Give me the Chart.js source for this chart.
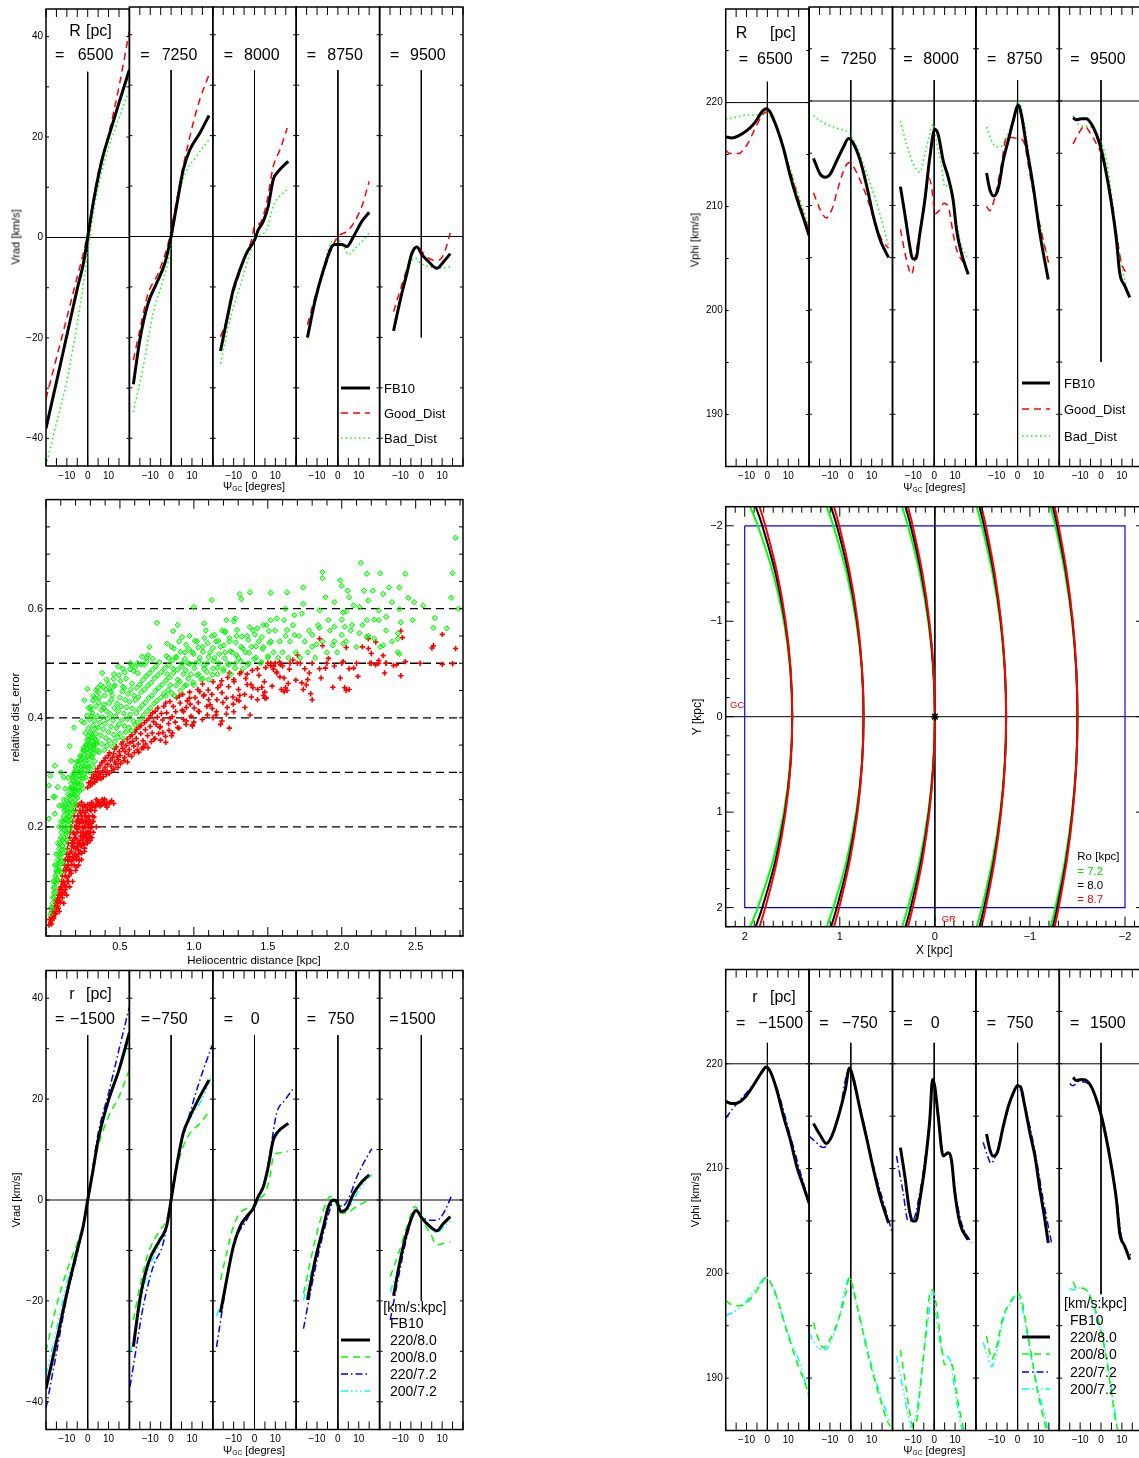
<!DOCTYPE html>
<html>
<head>
<meta charset="utf-8">
<title>Velocity field maps</title>
<script src="https://cdn.jsdelivr.net/npm/chart.js@4.4.1/dist/chart.umd.min.js"></script>
<style>
  body { margin: 0; width: 1139px; height: 1458px; overflow: hidden; background: #fff; position: relative;
         font-family: "Liberation Sans", Arial, sans-serif; }
  canvas { position: absolute; }
  .lbl { position: absolute; white-space: nowrap; line-height: 1; }
  .lbl sub { font-size: 0.6em; vertical-align: -0.2em; }
</style>
</head>
<body>
<script>
// ---- tick values and panel categories ----
const PSI_TICKS = [-10, 0, 10];
const VRAD_TICKS = [-40, -20, 0, 20, 40];
const VPHI_TICKS = [190, 200, 210, 220];
const DIST_TICKS = [0.5, 1.0, 1.5, 2.0, 2.5];
const ERR_TICKS = [0.2, 0.4, 0.6];
const KPC_TICKS = [-2, -1, 0, 1, 2];
const ERR_LEVELS = [0.2, 0.3, 0.4, 0.5, 0.6];

const R_LIST = [6500, 7250, 8000, 8750, 9500];
const Z_LIST = [-1500, -750, 0, 750, 1500];

// ---- Vrad vs psi_GC, one list per R ----
const VRAD_R_FB10 = [
  [[-20,-38],[-15,-28.8],[-10,-19.5],[-5,-10.2],[-2,-5],[0,0],[2.5,6.5],[5,12],[7.5,16.5],[10,20],[15,26.8],[20,33.4]],
  [[-18.1,-29.3],[-15,-20.5],[-11,-13.2],[-7,-9.3],[-3,-5.3],[0,0],[2.6,6],[5.8,13.2],[9,17.2],[13.8,20.5],[18.2,24]],
  [[-16.3,-22.7],[-12.6,-15.2],[-10.2,-10.6],[-7,-6.6],[-3.8,-3.3],[0,-0.7],[1.8,1.3],[4.2,3],[6.6,6],[9,11.3],[11.4,12.9],[16.2,14.9]],
  [[-14.6,-20],[-10.9,-12.6],[-6.9,-6.6],[-2.9,-2],[-1.3,-1.6],[1.9,-1.6],[4.3,-2],[7.5,0],[11.5,3],[15,4.8]],
  [[-13.3,-18.7],[-10.1,-12.6],[-6.9,-7.3],[-4.5,-3.3],[-2.1,-2.1],[0.3,-3.6],[3.5,-5],[7.5,-6.3],[10.7,-5],[13.9,-3.4]]
];
const VRAD_R_GOOD = [
  [[-20,-32.1],[-15,-24],[-10,-16],[-5,-7.8],[-2,-3],[0,0.8],[2.5,7],[5,12.8],[10,20.5],[15,30],[20,41.2]],
  [[-18.1,-24.5],[-15,-18.5],[-11,-11.3],[-6.2,-7.3],[-1.4,-1.4],[0,1.3],[2.6,7],[5.8,13.9],[10.6,22.5],[13.8,27.2],[18.2,32.1]],
  [[-16.3,-19.9],[-13.4,-16.6],[-10.2,-11.3],[-3.8,-3.3],[-1.4,-0.7],[0,2],[2.6,2.6],[5.8,6.6],[9,13.9],[12.2,17.2],[15.7,21.5]],
  [[-14.6,-17.5],[-10.9,-11.9],[-6.1,-6],[-2.9,-2.3],[0,0],[4.3,1],[7.5,2.6],[11.5,6],[15,10.9]],
  [[-13.3,-14.9],[-10.1,-10.6],[-5.3,-4.6],[-2.1,-2.1],[0.3,-3],[3.5,-4.3],[7.5,-4.8],[10.7,-3.6],[13.9,0.7]]
];
const VRAD_R_BAD = [
  [[-20,-45.4],[-15,-37],[-10,-28.5],[-5,-17],[-2,-9],[0,-3],[2,3],[5,9.9],[10,17.9],[15,23.8],[20,29.5]],
  [[-18.1,-34.8],[-13.4,-25.8],[-8.6,-15.2],[-3.8,-8.6],[-0.6,-3.3],[1,2],[5.8,11.3],[12.2,15.9],[18.2,19.2]],
  [[-16.3,-25.2],[-11.8,-16.6],[-7,-9.9],[-2.2,-3.3],[0,-0.7],[2.6,0.3],[5.8,1.3],[9,6],[15.7,9.4]],
  [[-14.6,-20.2],[-10.9,-12.6],[-6.9,-6],[-2.9,-1],[0,-0.7],[2.7,-2],[5.1,-3.6],[8.3,-2.3],[12.3,-0.7],[15,0.7]],
  [[-13.3,-18.5],[-10.1,-12.6],[-6.1,-6],[-2.9,-4.3],[-0.5,-5.3],[4.3,-6],[7.5,-6.3],[13.9,-6]]
];
const VRAD_R_VLINE = [[33,-46],[33,-46],[33,-46],[33,-46],[33,-20]];

// ---- Vphi vs psi_GC, one list per R ----
const VPHI_R_FB10 = [
  [[-20,216.7],[-17.1,216.6],[-13.9,216.8],[-9.9,217.3],[-5.9,218.1],[-2.7,219.1],[-0.6,219.4],[1.3,219.1],[4.5,217.6],[7.7,215.6],[10.9,213],[14.1,210.8],[17.3,208.9],[20,207.2]],
  [[-17.9,214.5],[-14.7,213],[-12.3,212.7],[-9.9,213],[-6.7,214.3],[-3.5,215.6],[-1.1,216.4],[1.3,215.9],[4.5,214.3],[7.7,211.8],[10.9,208.9],[14.1,206.7],[18.1,205]],
  [[-16.2,211.8],[-14.1,209.2],[-11.7,206.1],[-10.4,204.9],[-8.8,204.9],[-6.9,207.3],[-4.5,210.5],[-2.1,214.6],[0.3,217.3],[1.9,216.8],[4.3,214.3],[6.7,212.7],[9.1,210.5],[10.7,207.7],[13.1,205.4],[16.3,203.4]],
  [[-14.9,213.1],[-13.3,211.5],[-11.4,210.9],[-9.3,211.6],[-6.9,214.3],[-4.5,216.2],[-2.1,218.1],[0.3,219.6],[1.9,218.6],[4.3,215.6],[7.5,211.8],[10.7,207.3],[14.7,202.9]],
  [[-13.4,218.4],[-11.8,218.2],[-9.4,218.3],[-7,218.3],[-4.6,217.8],[-2.2,216.8],[0.2,215.3],[2.6,213],[5,210.2],[7.4,206.7],[9,203.5],[11.4,202.3],[13.8,201.2]]
];
const VPHI_R_GOOD = [
  [[-20,215.4],[-17.9,215.1],[-13.9,215.1],[-9.9,215.9],[-5.9,217.5],[-2.7,218.7],[-0.6,219.1],[4.5,217.5],[10.9,213.4],[17.3,209.2],[20,207.7]],
  [[-17.9,211.2],[-14.7,209.6],[-11.8,208.8],[-9.1,209.6],[-5.9,211.8],[-2.7,213.7],[-0.6,214.1],[1.3,213.7],[4.5,212.4],[7.7,210.8],[11.7,208.3],[14.9,206.7],[18.1,205.9]],
  [[-16.2,207.7],[-13.3,204.8],[-10.9,203.4],[-8.5,205.8],[-5.3,209.2],[-2.4,212.6],[-1.3,211.8],[0.6,209.2],[2.7,209.6],[4.6,210.2],[6.7,209.9],[9.1,207.3],[10.7,205.8],[13.1,204.8],[15.5,204.3]],
  [[-14.9,209.9],[-13.3,209.5],[-10.9,210.8],[-7.7,214],[-5.3,216.5],[-2.9,216.5],[0.3,216.4],[2.7,216.2],[5.9,213],[9.1,209.6],[12.3,206.7],[15.2,204.2]],
  [[-13.4,215.9],[-11,216.8],[-7.8,217.6],[-5.4,217],[-2.2,215.9],[0.2,214.9],[2.6,213],[5,210.5],[7.4,207.3],[9.8,204.5],[12.2,203.5]]
];
const VPHI_R_BAD = [
  [[-20,218.4],[-14.7,218.6],[-9.9,218.8],[-5.1,218.8],[-0.6,218.9],[4.5,217.6],[10.9,213.7],[17.3,209.6],[20,208]],
  [[-17.9,218.6],[-13.1,217.9],[-8.3,217.5],[-3.5,217.2],[-0.6,216.9],[2.9,215.6],[7.7,213],[12.5,210.2],[18.1,206.1]],
  [[-16.2,218.1],[-13.3,215.9],[-10.1,214],[-6.9,213.2],[-4.5,214.9],[-2.1,216.8],[-0.5,217.8],[1.1,216.2],[3.5,213.7],[5.1,211.8],[7.5,212.2],[9.9,209.6],[12.3,206.7],[16.3,204.8]],
  [[-14.9,217.5],[-11.7,215.9],[-8.5,215.6],[-5.3,216.5],[-2.1,218.3],[0.3,220],[2.7,218.4],[5.9,214.3],[9.1,209.9],[12.3,206.7],[15.2,204.5]],
  [[-13.4,218.6],[-11,217.8],[-7.8,217.6],[-4.6,217.5],[-1.4,216.5],[1,215.6],[3.4,213.4],[5.8,209.9],[8.2,206.4],[10.6,203.5],[13.8,200.9]]
];
const VPHI_R_VLINE = [[222,184],[222,184],[222,184],[222,184],[222,195]];

// ---- Vrad vs psi_GC, one list per r (rotation speed / Ro pairs) ----
const VRAD_Z_220_80 = [
  [[-20,-37.4],[-15,-28.1],[-10,-18.5],[-5,-9.9],[-2.2,-5.3],[0,0],[2.6,6],[5,11.9],[10,19.8],[15,25.8],[20,33.2]],
  [[-18.1,-29.1],[-15,-19.8],[-11,-12.6],[-5.4,-7.9],[-2.2,-5.3],[0,0],[2.6,6.6],[5.8,13.2],[9,16.5],[13.8,20.5],[18.2,23.8]],
  [[-16.3,-22.3],[-13.4,-15.9],[-10.2,-9.3],[-7,-5.3],[-3.8,-3.3],[-0.6,-1.7],[1.8,0.7],[4.2,2.6],[6.6,6.6],[9,11.9],[11.4,13.6],[16.2,15.2]],
  [[-14.6,-19.8],[-10.9,-11.9],[-6.9,-5.3],[-4.5,-1.3],[-2.1,0],[-0.5,-0.3],[1.4,-2.3],[4.3,-1.7],[7.5,1.3],[11.5,3.6],[15,5]],
  [[-13.3,-19],[-10.1,-11.9],[-6.1,-5.3],[-2.4,-2.1],[0.3,-3.6],[4.3,-5.3],[7.5,-6.1],[10.7,-4.6],[13.9,-3.3]]
];
const VRAD_Z_200_80 = [
  [[-20,-30],[-15,-21],[-10,-14],[-5,-8.5],[-2,-4.5],[0,-0.3],[2.5,5.5],[5,10.6],[10,16.5],[15,20.5],[20,25.8]],
  [[-18.1,-23.8],[-15,-17.2],[-11,-10.6],[-5.4,-6],[-2.2,-4],[0,0],[2.6,6],[5.8,10.6],[9,13.2],[13.8,15.2],[18.2,17.5]],
  [[-16.3,-15.9],[-13.4,-10.6],[-10.2,-5.3],[-7,-2.6],[-3.8,-1.7],[-0.6,-1.3],[2.6,0.3],[5,1.3],[7.4,4.6],[9,8.6],[11.4,9.3],[16.2,9.6]],
  [[-16.5,-18.5],[-14.1,-13.9],[-10.9,-7.9],[-6.9,-2],[-3.7,0.7],[-1.3,-0.3],[1.1,-2.6],[4.3,-2.6],[7.5,-1.7],[11.5,-0.7],[15.5,0.1]],
  [[-14.9,-15.2],[-10.9,-10.6],[-6.9,-5.3],[-2.9,-1.3],[0.3,-4],[4.3,-6.6],[7.5,-8.9],[10.7,-8.6],[13.9,-8.3]]
];
const VRAD_Z_220_72 = [
  [[-20,-41.3],[-15,-30.4],[-10,-19.2],[-5,-10.6],[0,-0.3],[5,13.2],[10,21.2],[15,29.8],[20,38.3]],
  [[-19.7,-37],[-16.6,-29.1],[-13.4,-21.2],[-8.6,-13.2],[-3.8,-8.6],[0,0],[4.2,9.9],[9,17.2],[13.8,23.8],[19.7,30.7]],
  [[-18.2,-29.1],[-15,-20.5],[-11.8,-11.9],[-7.8,-6.6],[-3.8,-4],[-0.6,-1.3],[2.6,1.3],[5,4],[7.4,9.3],[10.6,17.2],[14.6,19.8],[18.6,22.1]],
  [[-16.5,-25.5],[-13.3,-18.5],[-9.3,-10.6],[-5.3,-4],[-2.1,-0.3],[-0.5,-0.1],[1.9,-1.3],[5.1,0.3],[9.1,4.6],[12.3,7.3],[16.3,10.2]],
  [[-14.9,-23.8],[-10.9,-15.2],[-6.9,-7.3],[-2.9,-2],[0.3,-3.3],[4.3,-4],[7.5,-4],[10.7,-2.6],[14.7,1]]
];
const VRAD_Z_200_72 = [
  [[-20,-34.7],[-15,-25.8],[-10,-16.5],[-5,-9.3],[0,-0.1],[5,11.6],[10,19.5],[15,25.5],[20,31.7]],
  [[-19.7,-30.4],[-16.6,-24.5],[-11.8,-15.2],[-7,-9.9],[-2.2,-5.3],[0,0],[5,11.9],[9.8,16.5],[14.6,19.8],[19.7,24.8]],
  [[-18.2,-23],[-15,-19.2],[-11.8,-11.9],[-7.8,-6],[-3.8,-3.3],[-0.6,-1.7],[2.6,0.7],[5,3.3],[8.2,10.6],[11.4,13.2],[17,15.5]],
  [[-16.5,-19.8],[-12.5,-13.9],[-8.5,-7.3],[-4.5,-1.7],[-2.1,-0.3],[-0.5,-0.3],[1.9,-2.6],[5.1,-1.7],[9.1,1.3],[12.3,3.3],[16.3,5]],
  [[-14.9,-18.2],[-10.9,-13.2],[-6.9,-6.6],[-2.9,-2.3],[0.3,-3.3],[4.3,-5.3],[7.5,-6.5],[10.7,-5.3],[14.7,-4]]
];
const VRAD_Z_VLINE = [[32.7,-46],[32.7,-46],[32.7,-46],[32.7,-46],[32.7,-20]];

// ---- Vphi vs psi_GC, one list per r ----
const VPHI_Z_220_80 = [
  [[-20,216.4],[-17.1,216.2],[-13.9,216.3],[-9.9,217],[-5.9,218.2],[-2.7,219.2],[-0.6,219.7],[1.3,219.3],[4.5,217.5],[7.7,215],[10.9,212.8],[14.1,210.2],[17.3,208.3],[20,206.7]],
  [[-17.9,214.3],[-14.7,213.2],[-11.8,212.4],[-9.1,213.1],[-5.9,215],[-2.7,217.5],[-0.6,219.6],[1.3,218.5],[4.5,215.6],[7.7,212.8],[10.9,209.9],[14.1,207.3],[18.1,204.8]],
  [[-16.2,212],[-14.1,209.3],[-11.7,205.8],[-10.4,205],[-8.8,205],[-6.9,207],[-4.5,210.2],[-2.1,214.7],[-0.8,218.5],[0.3,217.8],[1.9,215],[4.3,211.2],[6.7,211.5],[8.3,210.8],[9.9,207.7],[12.3,204.8],[16.3,203.2]],
  [[-14.9,213.3],[-13.3,211.8],[-11.7,211.2],[-9.8,211.5],[-6.9,214],[-4.5,215.9],[-2.1,217.2],[0,217.9],[1.4,217.8],[3.5,215.9],[5.9,213.4],[8.3,211.2],[10.7,208],[13.1,205.1],[14.7,202.9]],
  [[-13.4,218.7],[-11.8,218.4],[-9.4,218.5],[-7,218.4],[-4.6,217.8],[-2.2,216.6],[0.2,215],[2.6,212.8],[5,210.2],[7.4,207],[9,203.8],[11.4,202.6],[13.8,201.3]]
];
const VPHI_Z_200_80 = [
  [[-20,197.4],[-17.1,197],[-13.1,196.9],[-9.9,197.2],[-5.9,198.1],[-2.7,199.1],[-0.6,199.6],[2.1,198.9],[5.3,197.2],[8.5,195],[11.7,193],[14.9,191.1],[18.1,189.5],[20,188.1]],
  [[-17.9,195.3],[-15.5,193.7],[-13.1,192.9],[-9.9,193.7],[-5.9,195.6],[-2.7,197.8],[-0.6,199.6],[1.3,198.4],[4.5,195.6],[7.7,192.7],[10.9,190.2],[14.1,188],[17.3,186],[18.9,185.4]],
  [[-16.2,192.7],[-14.1,189.9],[-11.7,186.7],[-10.1,185.4],[-8.5,185.8],[-6.9,188.6],[-4.5,193.4],[-2.1,198.1],[-0.8,198.4],[1.1,196.9],[3.5,193],[5.1,191.3],[7.5,191.4],[9.1,191],[10.7,188.6],[13.1,186],[14.5,184.8]],
  [[-14.9,194],[-13.3,192.4],[-12.5,191.8],[-10.1,193],[-6.9,195.9],[-3.7,197.2],[0,198.1],[1.9,197.5],[4.3,194.9],[6.7,192.1],[9.1,189.2],[11.5,187],[14.2,184.8]],
  [[-13.4,199.2],[-11.8,198.6],[-9.4,198.6],[-7,198.4],[-4.6,197.5],[-2.2,196.2],[0.2,194.3],[2.6,191.8],[5,188.6],[6.6,186.4],[8.4,184.6]]
];
const VPHI_Z_220_72 = [
  [[-20,214.8],[-16.3,215.8],[-11.5,216.9],[-5.9,218.2],[-0.6,219.7],[4.5,217.7],[10.9,213.2],[17.3,208.6],[20,206.9]],
  [[-20,213.1],[-17.1,212.6],[-13.1,212],[-9.9,212.8],[-5.9,215],[-0.6,219.6],[4.5,215.8],[10.9,210.2],[18.1,205.1],[19.7,204]],
  [[-18.1,211.2],[-14.9,207.7],[-12.5,205],[-10.1,205.1],[-6.9,207.7],[-4.5,210.8],[-1.8,215.3],[-0.5,218.3],[1.9,215.3],[4.6,211.2],[7.5,211.5],[9.9,208],[13.1,204.8],[17.9,202.9]],
  [[-16.5,212.5],[-14.4,211.2],[-12.8,210.5],[-10.4,211.3],[-6.9,214],[-2.1,217.2],[0,218],[2.7,216.6],[5.9,214],[9.1,210.8],[12.3,207],[16.3,202.9]],
  [[-15,218.1],[-13.4,217.9],[-11,218.3],[-7,218.2],[-2.2,216.6],[2.6,213.1],[7.4,207.3],[9.8,203.5],[14.6,201.6]]
];
const VPHI_Z_200_72 = [
  [[-20,196],[-16.3,196.3],[-11.5,197],[-5.9,198.4],[-0.6,199.6],[2.9,198.6],[6.9,196.2],[10.9,193.7],[14.9,191.8],[20,188.3]],
  [[-20,194.3],[-16.3,193],[-12.3,192.7],[-9.1,193.7],[-5.9,195.6],[-0.6,199.6],[2.9,196.9],[6.9,193.7],[10.9,190.5],[14.9,188],[18.9,185.7]],
  [[-18.1,192.1],[-14.9,188.9],[-12.5,186.4],[-10.9,185.3],[-8.5,186.7],[-5.3,191.8],[-2.9,195.6],[-0.8,198.4],[1.1,195.6],[4,192.4],[7.5,191.8],[9.9,188.9],[12.6,185.7],[13.8,184.8]],
  [[-16.5,193.4],[-14.4,192.1],[-12.5,191.1],[-10.1,192.4],[-6.9,195.6],[-3.7,197],[0,198],[2.7,196.2],[5.9,192.7],[9.1,189.5],[12.3,187],[14.9,184.8]],
  [[-15,198.6],[-13.4,198.4],[-11,198.6],[-7,198.4],[-2.2,196],[1,193.7],[3.4,191.1],[5.8,188],[8.4,184.6]]
];
const VPHI_Z_VLINE = [[222,184],[222,184],[222,184],[222,184],[222,198]];

// ---- relative distance error vs heliocentric distance [kpc] ----
const BAD_PTS = [
  // outer, sparse stars
  [2.77,0.73],[2.75,0.665],[2.74,0.62],[2.79,0.6],[2.71,0.564],[2.62,0.565],[2.63,0.583],[2.55,0.606],[2.49,0.612],[2.45,0.62],
  [2.48,0.579],[2.43,0.664],[2.39,0.639],[2.39,0.599],[2.4,0.575],[2.38,0.555],[2.38,0.545],[2.39,0.517],[2.34,0.612],[2.32,0.639],
  [2.28,0.627],[2.26,0.665],[2.25,0.597],[2.3,0.585],[2.25,0.579],[2.21,0.633],[2.18,0.615],[2.17,0.664],[2.15,0.633],[2.13,0.684],
  [2.12,0.603],[2.17,0.579],[2.17,0.548],[2.12,0.555],[2.28,0.533],[2.22,0.545],[2.04,0.633],[2.05,0.621],[2.08,0.606],[2.03,0.595],
  [2.01,0.593],[1.99,0.652],[2,0.642],[1.95,0.612],[1.95,0.567],[2.02,0.567],[2.07,0.57],[2,0.552],[1.94,0.533],[2.01,0.536],
  [1.89,0.621],[1.87,0.667],[1.87,0.656],[1.85,0.597],[1.91,0.579],[1.85,0.565],[1.8,0.552],[1.83,0.535],[1.74,0.609],[1.74,0.639],
  [1.73,0.591],[1.68,0.588],[1.63,0.63],[1.62,0.6],[1.61,0.579],[1.68,0.552],[1.63,0.561],[1.56,0.582],[1.52,0.629],[1.52,0.579],
  [1.47,0.57],[1.43,0.564],[1.38,0.63],[1.32,0.618],[1.31,0.627],[1.27,0.577],[1.28,0.582],[1.22,0.579],[1.21,0.559],[1.12,0.616],
  [1.07,0.573],[1,0.603],[0.92,0.548],[0.89,0.57],[0.86,0.559],[0.75,0.574],[0.82,0.536],[0.7,0.53],[0.69,0.515],[0.65,0.512],
  [0.58,0.497],[0.49,0.494],[0.46,0.458],[0.38,0.482],[0.35,0.455],[0.28,0.453],[0.24,0.394],[0.19,0.382],[0.16,0.348],[0.26,0.432],
  [0.31,0.403],[0.39,0.418],[0.44,0.448],[0.53,0.455],[0.06,0.312],[0.03,0.294],[0.02,0.276],[0.02,0.215],[0.06,0.255],[0.12,0.291],
  [0.17,0.321],[0.18,0.294],[0.09,0.239],[0.06,0.224],[0.08,0.273],[0.05,0.255],[0.12,0.236],[0.1,0.3],
  // nearby column
  [0.03,0.04],[0.04,0.05],[0.045,0.06],[0.05,0.07],[0.055,0.08],[0.06,0.09],[0.06,0.1],[0.065,0.11],[0.07,0.12],[0.07,0.105],
  [0.075,0.13],[0.08,0.14],[0.08,0.12],[0.085,0.15],[0.09,0.16],[0.09,0.135],[0.095,0.17],[0.1,0.18],[0.1,0.15],[0.105,0.19],
  [0.11,0.2],[0.11,0.165],[0.115,0.21],[0.12,0.22],[0.12,0.18],[0.125,0.23],[0.13,0.2],[0.13,0.24],[0.135,0.215],[0.14,0.25],
  [0.14,0.19],[0.145,0.23],[0.15,0.26],[0.15,0.21],[0.155,0.24],[0.16,0.27],[0.16,0.22],[0.165,0.25],[0.17,0.28],[0.17,0.2],
  [0.175,0.26],[0.18,0.29],[0.18,0.23],[0.185,0.27],[0.19,0.3],[0.19,0.24],[0.195,0.28],[0.2,0.31],[0.2,0.25],[0.205,0.29],
  [0.21,0.32],[0.21,0.26],[0.22,0.3],[0.22,0.27],[0.23,0.33],[0.23,0.28],[0.24,0.31],[0.24,0.29],[0.25,0.34],[0.25,0.3],
  [0.26,0.32],[0.27,0.35],[0.27,0.31],[0.28,0.33],[0.29,0.36],[0.3,0.34],[0.3,0.3],[0.31,0.37],[0.32,0.35],[0.32,0.31],
  [0.33,0.38],[0.34,0.36],[0.35,0.34],[0.06,0.13],[0.08,0.17],[0.1,0.21],[0.12,0.25],[0.05,0.1],[0.09,0.2],[0.11,0.24],
  [0.13,0.27],[0.15,0.29],[0.07,0.15],[0.21,0.28],[0.23,0.3],[0.25,0.27],[0.27,0.29],[0.29,0.31],[0.31,0.33],[0.33,0.32],
  [0.22,0.32],[0.24,0.33],[0.26,0.34],[0.28,0.36],[0.2,0.27],[0.19,0.26],[0.18,0.27],
  [0.036,0.052],[0.047,0.071],[0.053,0.088],[0.061,0.079],[0.068,0.097],[0.074,0.116],[0.079,0.103],[0.086,0.128],[0.093,0.121],[0.097,0.144],
  [0.104,0.137],[0.108,0.158],[0.113,0.176],[0.118,0.152],[0.123,0.194],[0.127,0.171],[0.132,0.213],[0.137,0.186],[0.142,0.227],[0.147,0.204],
  [0.152,0.243],[0.157,0.218],[0.162,0.257],[0.168,0.233],[0.173,0.271],[0.178,0.246],[0.183,0.284],[0.188,0.259],[0.194,0.297],[0.199,0.268],
  [0.204,0.306],[0.211,0.282],[0.217,0.314],[0.224,0.293],[0.231,0.321],[0.238,0.304],[0.246,0.327],[0.253,0.312],[0.261,0.338],[0.269,0.322],
  [0.277,0.343],[0.286,0.329],[0.294,0.352],[0.303,0.338],[0.312,0.357],[0.321,0.346],[0.33,0.362],[0.34,0.352],[0.104,0.116],[0.117,0.134],
  [0.131,0.158],[0.144,0.176],[0.158,0.193],[0.171,0.212],[0.186,0.227],[0.198,0.241],[0.212,0.253],[0.226,0.266],[0.239,0.277],[0.253,0.289],
  [0.266,0.298],[0.281,0.308],[0.296,0.317],[0.309,0.327],[0.323,0.335],
  // main cloud up to ~1.5 kpc
  [0.255,0.345],[0.266,0.372],[0.26,0.391],[0.274,0.352],[0.285,0.381],[0.279,0.404],[0.289,0.366],[0.292,0.349],[0.301,0.373],[0.295,0.397],
  [0.305,0.415],[0.309,0.364],[0.318,0.386],[0.312,0.409],[0.322,0.351],[0.324,0.342],[0.335,0.371],[0.329,0.395],[0.339,0.421],[0.343,0.356],
  [0.352,0.382],[0.346,0.403],[0.356,0.428],[0.359,0.337],[0.37,0.368],[0.364,0.391],[0.374,0.414],[0.361,0.437],[0.378,0.352],[0.387,0.379],
  [0.381,0.401],[0.391,0.424],[0.394,0.341],[0.405,0.363],[0.399,0.389],[0.409,0.412],[0.396,0.441],[0.413,0.349],[0.422,0.374],[0.416,0.398],
  [0.426,0.427],[0.429,0.358],[0.44,0.384],[0.434,0.407],[0.444,0.433],[0.431,0.452],[0.449,0.347],[0.458,0.369],[0.452,0.395],[0.462,0.418],
  [0.447,0.441],[0.465,0.356],[0.476,0.381],[0.47,0.403],[0.48,0.426],[0.467,0.459],[0.485,0.364],[0.494,0.388],[0.488,0.412],[0.498,0.437],
  [0.502,0.371],[0.513,0.396],[0.507,0.421],[0.517,0.448],[0.504,0.468],[0.523,0.362],[0.532,0.385],[0.526,0.408],[0.536,0.433],[0.521,0.457],
  [0.54,0.374],[0.551,0.398],[0.545,0.419],[0.555,0.444],[0.542,0.472],[0.561,0.382],[0.57,0.406],[0.564,0.429],[0.574,0.452],[0.579,0.376],
  [0.59,0.394],[0.584,0.417],[0.594,0.441],[0.581,0.463],[0.592,0.486],[0.601,0.387],[0.61,0.409],[0.604,0.432],[0.614,0.455],[0.619,0.391],
  [0.63,0.416],[0.624,0.438],[0.634,0.461],[0.621,0.482],[0.642,0.398],[0.651,0.423],[0.645,0.447],[0.655,0.469],[0.661,0.405],[0.672,0.428],
  [0.666,0.452],[0.676,0.476],[0.663,0.497],[0.685,0.412],[0.694,0.436],[0.688,0.459],[0.698,0.481],[0.705,0.418],[0.716,0.441],[0.71,0.464],
  [0.72,0.488],[0.73,0.426],[0.739,0.449],[0.733,0.472],[0.743,0.494],[0.751,0.431],[0.762,0.455],[0.756,0.478],[0.766,0.502],[0.777,0.437],
  [0.786,0.461],[0.78,0.484],[0.799,0.445],[0.81,0.468],[0.804,0.491],[0.814,0.513],[0.826,0.451],[0.835,0.474],[0.829,0.497],[0.85,0.445],
  [0.861,0.482],[0.855,0.505],[0.865,0.527],[0.879,0.459],[0.888,0.488],[0.882,0.512],[0.905,0.466],[0.916,0.494],[0.91,0.521],[0.935,0.458],
  [0.944,0.487],[0.938,0.508],[0.948,0.534],[0.962,0.472],[0.973,0.499],[0.967,0.526],[0.994,0.465],[1.003,0.491],[0.997,0.517],[1.007,0.541],
  [1.024,0.478],[1.035,0.503],[1.029,0.529],[1.058,0.472],[1.067,0.496],[1.061,0.521],[1.071,0.546],[1.089,0.484],[1.1,0.511],[1.094,0.537],
  [1.126,0.479],[1.135,0.504],[1.129,0.528],[1.139,0.552],[1.16,0.492],[1.171,0.517],[1.165,0.541],[1.199,0.486],[1.208,0.509],[1.202,0.533],
  [1.212,0.557],[1.236,0.497],[1.247,0.522],[1.241,0.546],[1.279,0.491],[1.288,0.515],[1.282,0.538],[1.292,0.561],[1.319,0.503],[1.33,0.527],
  [1.324,0.549],[1.365,0.497],[1.374,0.519],[1.368,0.543],[1.378,0.566],[1.408,0.508],[1.419,0.531],[1.413,0.553],[1.457,0.502],[1.466,0.526],
  [1.46,0.548],[1.503,0.513],[1.514,0.537],[1.508,0.559],
  [0.318,0.432],[0.352,0.447],[0.387,0.456],[0.423,0.462],[0.458,0.471],[0.493,0.478],[0.532,0.483],[0.568,0.489],[0.603,0.493],[0.641,0.498],
  [0.682,0.503],[0.722,0.508],[0.286,0.418],[0.333,0.436],[0.405,0.452],
  [0.3,0.42],[0.32,0.44],[0.34,0.45],[0.37,0.46],[0.41,0.47],[0.46,0.48],[0.52,0.49],[0.57,0.5],[0.62,0.5],[0.68,0.51],
  [0.81,0.44],[0.82,0.48],[0.83,0.51],[0.84,0.46],[0.85,0.53],[0.86,0.49],[0.87,0.44],[0.88,0.51],[0.89,0.47],[0.9,0.54],
  [0.91,0.45],[0.92,0.5],[0.93,0.48],[0.94,0.52],[0.95,0.46],[0.96,0.5],[0.97,0.55],[0.98,0.48],[0.99,0.52],[1,0.46],
  [1.01,0.5],[1.02,0.54],[1.03,0.48],[1.04,0.51],[1.05,0.47],[1.06,0.53],[1.07,0.49],[1.08,0.56],[1.09,0.5],[1.1,0.47],
  [1.11,0.52],[1.12,0.55],[1.13,0.49],[1.14,0.51],[1.15,0.54],[1.16,0.48],[1.17,0.5],[1.18,0.53],[1.19,0.56],[1.2,0.49],
  [1.21,0.52],[1.23,0.5],[1.24,0.54],[1.25,0.48],[1.26,0.52],[1.28,0.5],[1.29,0.55],[1.3,0.51],[1.32,0.53],[1.33,0.49],
  [1.35,0.52],[1.36,0.55],[1.37,0.5],[1.39,0.53],[1.4,0.56],[1.42,0.51],[1.44,0.54],[1.45,0.5],[1.47,0.53],[1.49,0.57],
  [1.5,0.51],[1.52,0.54],[1.54,0.52],[1.55,0.56],[1.57,0.51],[1.58,0.54],[1.6,0.52],[1.62,0.55],[1.64,0.51],[1.65,0.54],
  [1.67,0.57],[1.69,0.52],[1.71,0.55],[1.72,0.51],[1.75,0.54],[1.77,0.52],[1.78,0.56],[1.8,0.53],[1.82,0.51],[1.84,0.57],
  [1.87,0.54],[1.9,0.52],[1.92,0.56],[1.95,0.54],[1.97,0.52],[2,0.58],[2.03,0.54],[2.06,0.56],[2.1,0.53],[2.14,0.57],
  [2.18,0.55],[2.22,0.58],[2.26,0.53],[2.3,0.56],[2.34,0.54],[2.38,0.52]
];
const GOOD_PTS = [
  // outer, sparse stars
  [2.77,0.527],[2.75,0.499],[2.68,0.498],[2.68,0.553],[2.62,0.532],[2.61,0.528],[2.53,0.5],[2.43,0.503],[2.4,0.477],[2.41,0.547],
  [2.4,0.559],[2.37,0.497],[2.35,0.496],[2.3,0.5],[2.29,0.482],[2.28,0.514],[2.25,0.5],[2.23,0.497],[2.2,0.518],[2.19,0.5],
  [2.18,0.527],[2.23,0.539],[2.18,0.545],[2.14,0.53],[2.11,0.476],[2.08,0.491],[2.05,0.452],[2.03,0.45],[2.02,0.455],[2.03,0.529],
  [2.01,0.503],[1.99,0.473],[1.94,0.456],[1.91,0.509],[1.89,0.491],[1.86,0.473],[1.87,0.532],[1.85,0.545],[1.8,0.433],[1.79,0.444],
  [1.77,0.47],[1.78,0.482],[1.74,0.452],[1.73,0.464],[1.72,0.5],[1.7,0.515],[1.67,0.506],[1.63,0.45],[1.62,0.455],[1.61,0.473],
  [1.58,0.502],[1.56,0.482],[1.54,0.494],[1.52,0.5],[1.49,0.436],[1.47,0.441],[1.46,0.456],[1.43,0.433],[1.4,0.455],[1.36,0.461],
  [1.36,0.48],[1.31,0.441],[1.29,0.433],[1.27,0.47],[1.24,0.482],[1.22,0.407],[1.19,0.394],[1.18,0.388],[1.13,0.4],[1.1,0.433],
  [1.07,0.442],[1.03,0.412],[0.99,0.385],[0.95,0.394],[0.89,0.382],[0.85,0.367],[0.81,0.355],[0.77,0.382],[0.73,0.361],[0.66,0.345],
  [1.38,0.405],[1.27,0.411],[1.11,0.424],[1.22,0.436],[1.48,0.436],[1.61,0.448],[1.76,0.46],[1.69,0.469],[1.56,0.484],[1.52,0.496],
  [1.43,0.49],[1.32,0.484],[1.18,0.46],[1.04,0.448],[0.97,0.436],[0.93,0.411],[0.84,0.399],[0.99,0.387],[1.15,0.405],[1.24,0.381],
  [1.5,0.5],[1.55,0.5],[1.6,0.495],[1.65,0.5],[1.7,0.5],[1.75,0.49],[1.8,0.5],[1.85,0.49],[1.9,0.5],[1.95,0.495],
  [2,0.5],[2.05,0.49],[2.1,0.5],[2.2,0.5],[2.25,0.505],[2.3,0.5],
  // nearby spine and blob
  [0.02,0.02],[0.025,0.03],[0.03,0.025],[0.035,0.035],[0.04,0.03],[0.04,0.045],[0.045,0.04],[0.05,0.05],[0.05,0.035],[0.055,0.045],
  [0.06,0.055],[0.06,0.04],[0.065,0.06],[0.07,0.05],[0.07,0.065],[0.075,0.06],[0.08,0.07],[0.08,0.055],[0.085,0.075],[0.09,0.065],
  [0.09,0.085],[0.095,0.08],[0.1,0.09],[0.1,0.075],[0.105,0.1],[0.11,0.085],[0.11,0.11],[0.115,0.095],[0.12,0.12],[0.12,0.1],
  [0.125,0.13],[0.13,0.11],[0.13,0.14],[0.135,0.12],[0.14,0.15],[0.14,0.125],[0.145,0.16],[0.15,0.13],[0.15,0.17],[0.155,0.145],
  [0.16,0.18],[0.16,0.14],[0.165,0.19],[0.17,0.155],[0.17,0.2],[0.175,0.165],[0.18,0.21],[0.18,0.175],[0.185,0.19],[0.19,0.22],
  [0.19,0.17],[0.195,0.2],[0.2,0.23],[0.2,0.18],[0.205,0.21],[0.21,0.24],[0.21,0.19],[0.215,0.22],[0.22,0.2],[0.22,0.24],
  [0.225,0.17],[0.23,0.21],[0.23,0.23],[0.235,0.19],[0.24,0.22],[0.24,0.245],[0.245,0.2],[0.25,0.23],[0.25,0.18],[0.255,0.21],
  [0.26,0.24],[0.26,0.2],[0.265,0.22],[0.27,0.19],[0.27,0.235],[0.275,0.21],[0.28,0.23],[0.285,0.2],[0.29,0.22],[0.295,0.24],
  [0.3,0.21],[0.305,0.23],[0.31,0.245],[0.315,0.22],[0.32,0.24],[0.33,0.23],[0.34,0.25],[0.35,0.24],[0.36,0.245],[0.37,0.24],
  [0.38,0.25],[0.39,0.245],[0.4,0.24],[0.41,0.245],[0.43,0.245],[0.2,0.16],[0.21,0.165],[0.22,0.15],[0.23,0.175],[0.24,0.165],
  [0.25,0.19],[0.26,0.185],[0.27,0.2],[0.28,0.19],[0.29,0.205],[0.3,0.19],[0.31,0.2],[0.175,0.13],[0.185,0.14],[0.195,0.15],
  [0.205,0.14],[0.215,0.17],[0.165,0.12],[0.155,0.11],[0.145,0.1],[0.135,0.09],[0.125,0.08],[0.25,0.21],[0.32,0.21],[0.31,0.18],
  [0.09,0.045],[0.12,0.06],[0.14,0.075],[0.16,0.09],[0.18,0.1],[0.2,0.12],[0.22,0.13],[0.24,0.14],[0.26,0.155],[0.28,0.17],
  [0.3,0.175],[0.32,0.19],[0.34,0.2],[0.13,0.085],[0.15,0.1],[0.17,0.115],[0.19,0.13],[0.21,0.145],[0.23,0.155],[0.25,0.17],
  [0.27,0.18],[0.29,0.19],[0.11,0.07],[0.16,0.12],[0.18,0.145],[0.2,0.15],
  [0.187,0.162],[0.203,0.178],[0.214,0.196],[0.228,0.207],[0.236,0.183],[0.244,0.214],[0.252,0.198],[0.261,0.226],[0.268,0.209],[0.276,0.218],
  [0.283,0.241],[0.291,0.213],[0.298,0.232],[0.307,0.207],[0.312,0.236],[0.324,0.218],[0.337,0.238],[0.346,0.243],[0.218,0.158],[0.232,0.166],
  [0.247,0.176],[0.258,0.168],[0.272,0.186],[0.286,0.179],[0.301,0.198],[0.193,0.146],[0.208,0.127],[0.226,0.139],[0.241,0.152],[0.262,0.161],
  [0.279,0.174],[0.296,0.183],[0.171,0.137],[0.158,0.121],[0.143,0.108],[0.128,0.094],[0.112,0.078],[0.097,0.062],[0.083,0.051],[0.066,0.041],
  [0.052,0.032],[0.038,0.022],[0.148,0.138],[0.163,0.152],[0.178,0.171],[0.192,0.186],[0.206,0.202],[0.219,0.214],[0.233,0.226],[0.248,0.237],
  [0.352,0.247],[0.366,0.238],[0.381,0.243],[0.396,0.251],[0.412,0.236],[0.427,0.242],[0.444,0.248],[0.458,0.243],
  // main band
  [0.281,0.272],[0.289,0.281],[0.301,0.276],[0.309,0.29],[0.303,0.283],[0.314,0.279],[0.322,0.296],[0.327,0.288],[0.336,0.301],[0.33,0.282],
  [0.343,0.293],[0.351,0.307],[0.345,0.286],[0.356,0.29],[0.365,0.312],[0.359,0.299],[0.37,0.297],[0.378,0.318],[0.372,0.288],[0.384,0.303],
  [0.393,0.321],[0.387,0.292],[0.399,0.309],[0.407,0.296],[0.401,0.326],[0.413,0.302],[0.422,0.331],[0.416,0.315],[0.427,0.298],[0.435,0.322],
  [0.429,0.336],[0.441,0.311],[0.45,0.327],[0.444,0.303],[0.458,0.334],[0.466,0.319],[0.46,0.306],[0.464,0.343],[0.472,0.315],[0.481,0.329],
  [0.475,0.347],[0.487,0.309],[0.495,0.338],[0.489,0.323],[0.501,0.331],[0.51,0.352],[0.504,0.316],[0.518,0.344],[0.526,0.321],[0.52,0.356],
  [0.532,0.327],[0.541,0.349],[0.535,0.338],[0.549,0.361],[0.557,0.333],[0.551,0.319],[0.563,0.342],[0.572,0.366],[0.566,0.354],[0.579,0.329],
  [0.587,0.357],[0.581,0.369],[0.594,0.348],[0.603,0.374],[0.597,0.336],[0.61,0.362],[0.618,0.341],[0.612,0.379],[0.624,0.352],[0.633,0.383],
  [0.627,0.337],[0.641,0.371],[0.649,0.344],[0.643,0.386],[0.656,0.358],[0.665,0.391],[0.659,0.347],[0.672,0.378],[0.68,0.395],[0.674,0.352],
  [0.687,0.367],[0.696,0.399],[0.69,0.345],[0.704,0.384],[0.712,0.356],[0.706,0.404],[0.718,0.372],[0.727,0.393],[0.721,0.409],[0.737,0.362],
  [0.745,0.388],[0.739,0.412],[0.753,0.401],[0.762,0.371],[0.756,0.418],[0.772,0.384],[0.78,0.408],[0.774,0.359],[0.788,0.396],[0.797,0.421],
  [0.791,0.373],[0.808,0.366],[0.816,0.409],[0.81,0.427],[0.829,0.389],[0.838,0.43],[0.832,0.377],[0.853,0.402],[0.861,0.421],[0.855,0.372],
  [0.874,0.392],[0.883,0.437],[0.877,0.411],[0.899,0.381],[0.907,0.427],[0.901,0.44],[0.921,0.414],[0.93,0.397],[0.924,0.443],[0.947,0.388],
  [0.955,0.431],[0.949,0.419],[0.972,0.447],[0.981,0.403],[0.975,0.425],[1.0,0.392],[1.008,0.437],[1.002,0.418],[1.027,0.452],[1.036,0.411],
  [1.03,0.428],[1.057,0.397],[1.065,0.44],[1.059,0.462],[1.088,0.421],[1.097,0.451],[1.091,0.405],[1.122,0.443],[1.13,0.466],[1.124,0.417],
  [1.153,0.411],[1.162,0.455],[1.156,0.433],[1.188,0.468],[1.196,0.428],[1.19,0.446],[1.226,0.419],[1.235,0.457],[1.229,0.474],[1.264,0.438],
  [1.272,0.466],[1.266,0.425],[1.302,0.452],[1.311,0.481],[1.305,0.431],[1.343,0.443],[1.351,0.472],[1.345,0.419],[1.386,0.461],[1.395,0.487],
  [1.389,0.438],[1.432,0.452],[1.44,0.478],[1.477,0.466],[1.486,0.492],[1.48,0.447],[1.529,0.458],[1.537,0.489],[1.582,0.475],[1.591,0.452],
  [1.585,0.497],[1.638,0.463],[1.646,0.489]
];

// ---- circles of constant R in the (X, Y) plane, for three Ro values ----
const RING_Y = [-2.2, -2, -1.5, -1, -0.5, 0, 0.5, 1, 1.5, 2, 2.2];
const RING_X_72 = [
  [1.942,1.862,1.701,1.588,1.522,1.5,1.522,1.588,1.701,1.862,1.942],
  [1.137,1.068,0.927,0.828,0.769,0.75,0.769,0.828,0.927,1.068,1.137],
  [0.344,0.283,0.158,0.070,0.017,0,0.017,0.070,0.158,0.283,0.344],
  [-0.440,-0.494,-0.607,-0.687,-0.734,-0.75,-0.734,-0.687,-0.607,-0.494,-0.440],
  [-1.217,-1.267,-1.370,-1.442,-1.486,-1.5,-1.486,-1.442,-1.370,-1.267,-1.217]
];
const RING_X_80 = [
  [1.884,1.815,1.675,1.577,1.519,1.5,1.519,1.577,1.675,1.815,1.884],
  [1.092,1.031,0.907,0.819,0.767,0.75,0.767,0.819,0.907,1.031,1.092],
  [0.308,0.254,0.142,0.063,0.016,0,0.016,0.063,0.142,0.254,0.308],
  [-0.469,-0.518,-0.621,-0.693,-0.736,-0.75,-0.736,-0.693,-0.621,-0.518,-0.469],
  [-1.242,-1.287,-1.381,-1.447,-1.487,-1.5,-1.487,-1.447,-1.381,-1.287,-1.242]
];
const RING_X_87 = [
  [1.844,1.783,1.658,1.570,1.517,1.5,1.517,1.570,1.658,1.783,1.844],
  [1.061,1.006,0.893,0.813,0.766,0.75,0.766,0.813,0.893,1.006,1.061],
  [0.283,0.233,0.130,0.058,0.014,0,0.014,0.058,0.130,0.233,0.283],
  [-0.490,-0.536,-0.630,-0.697,-0.737,-0.75,-0.737,-0.697,-0.630,-0.536,-0.490],
  [-1.260,-1.302,-1.389,-1.451,-1.488,-1.5,-1.488,-1.451,-1.389,-1.302,-1.260]
];
const FIELD_BOX = [[2,-2],[-2,-2],[-2,2],[2,2],[2,-2]];

// ---------------------------------------------------------------
Chart.defaults.font.family = "'Liberation Sans', Arial, sans-serif";
Chart.defaults.color = '#000';

const minus = v => (v < 0 ? '\u2212' + Math.abs(v) : String(v));

// IDL-like box: frame around the plot area with inward ticks on all sides
Chart.register({
  id: 'idlFrame',
  afterDatasetsDraw(chart, args, o) {
    const { ctx, chartArea: a } = chart;
    const xs = chart.scales.x, ys = chart.scales.y;
    const near = (v, m) => Math.abs(v / m - Math.round(v / m)) < 1e-6;
    ctx.save();
    ctx.strokeStyle = '#000';
    ctx.lineWidth = 1;
    ctx.beginPath();
    for (let i = Math.ceil(xs.min / o.xStep - 1e-6); i * o.xStep <= xs.max + 1e-6; i++) {
      const v = i * o.xStep, p = xs.getPixelForValue(v);
      const len = near(v, o.xMajor) ? o.xLen[0] : o.xLen[1];
      ctx.moveTo(p, a.bottom); ctx.lineTo(p, a.bottom - len);
      ctx.moveTo(p, a.top); ctx.lineTo(p, a.top + len);
    }
    for (let i = Math.ceil(ys.min / o.yStep - 1e-6); i * o.yStep <= ys.max + 1e-6; i++) {
      const v = i * o.yStep, p = ys.getPixelForValue(v);
      const len = near(v, o.yMajor) ? o.yLen[0] : o.yLen[1];
      ctx.moveTo(a.left, p); ctx.lineTo(a.left + len, p);
      ctx.moveTo(a.right, p); ctx.lineTo(a.right - len, p);
    }
    ctx.stroke();
    ctx.lineWidth = o.border || 1.5;
    ctx.strokeRect(a.left, a.top, a.right - a.left, a.bottom - a.top);
    ctx.restore();
  }
});

function makeCanvas(box) {
  const c = document.createElement('canvas');
  c.width = box[2]; c.height = box[3];
  c.style.left = box[0] + 'px'; c.style.top = box[1] + 'px';
  document.body.appendChild(c);
  return c;
}

function putText(html, x, y, size, how, color) {
  const d = document.createElement('div');
  d.className = 'lbl';
  d.innerHTML = html;
  d.style.left = x + 'px'; d.style.top = y + 'px';
  d.style.fontSize = size + 'px';
  d.style.color = color || '#000';
  d.style.transform = how === 'c' ? 'translate(-50%,-50%)'
    : how === 'v' ? 'translate(-50%,-50%) rotate(-90deg)' : 'translateY(-50%)';
  document.body.appendChild(d);
}

function putSwatch(x1, x2, y, s) {
  const ns = 'http://www.w3.org/2000/svg';
  const svg = document.createElementNS(ns, 'svg');
  svg.setAttribute('width', x2 - x1); svg.setAttribute('height', 8);
  svg.style.cssText = `position:absolute;left:${x1}px;top:${y - 4}px`;
  const ln = document.createElementNS(ns, 'line');
  ln.setAttribute('x1', 0); ln.setAttribute('x2', x2 - x1);
  ln.setAttribute('y1', 4); ln.setAttribute('y2', 4);
  ln.setAttribute('stroke', s.color); ln.setAttribute('stroke-width', s.width);
  if (s.dash) ln.setAttribute('stroke-dasharray', s.dash.join(' '));
  svg.appendChild(ln);
  document.body.appendChild(svg);
}

const refLine = pts => ({
  data: pts.map(([x, y]) => ({ x, y })), borderColor: '#000', borderWidth: 1,
  pointRadius: 0, tension: 0
});

// five side-by-side boxes sharing one y range
function stripPanel(p) {
  for (let k = 0; k < 5; k++) {
    const subL = p.left + k * p.subW, subR = subL + p.subW;
    const sets = p.series.map(s => ({
      data: s.data[k].map(([x, y]) => ({ x, y })),
      borderColor: s.color, borderWidth: s.width, borderDash: s.dash || [],
      pointRadius: 0, cubicInterpolationMode: 'monotone'
    }));
    sets.push(refLine([[-20, p.hline], [20, p.hline]]));
    sets.push(refLine([[0, p.vline[k][0]], [0, p.vline[k][1]]]));
    new Chart(makeCanvas(p.box), {
      type: 'line',
      data: { datasets: sets },
      options: {
        responsive: false, animation: false, events: [],
        layout: { autoPadding: false, padding: {
          left: k ? subL - p.box[0] : 0, right: p.box[0] + p.box[2] - subR,
          top: p.top - p.box[1], bottom: 0 } },
        plugins: { legend: { display: false }, tooltip: { enabled: false },
          idlFrame: { xStep: 5, xMajor: 5, xLen: [8, 8], yStep: p.yStep, yMajor: p.yStep, yLen: [3, 3] } },
        scales: {
          x: { type: 'linear', min: -20, max: 20,
            grid: { display: false, drawTicks: false }, border: { display: false },
            ticks: { font: { size: 10 }, padding: 4, autoSkip: false, maxRotation: 0, callback: minus },
            afterBuildTicks: s => { s.ticks = PSI_TICKS.map(v => ({ value: v })); },
            afterFit: s => { s.height = p.box[1] + p.box[3] - p.bottom; } },
          y: { type: 'linear', min: p.y[0], max: p.y[1], display: k === 0,
            grid: { display: false, drawTicks: false }, border: { display: false },
            ticks: { font: { size: 10 }, padding: 3, autoSkip: false, callback: minus },
            afterBuildTicks: s => { s.ticks = p.yTicks.map(v => ({ value: v })); },
            afterFit: s => { s.width = k === 0 ? p.left - p.box[0] : 0; } }
        }
      }
    });
  }
}

const TOP_STYLES = [
  { name: 'FB10', color: '#000', width: 3 },
  { name: 'Good_Dist', color: '#ff0000', width: 1.5, dash: [7, 5] },
  { name: 'Bad_Dist', color: '#00ff00', width: 1.5, dash: [1.5, 3] }
];
const BOT_STYLES = [
  { name: '220/8.0', color: '#000', width: 3 },
  { name: '200/8.0', color: '#00ff00', width: 1.5, dash: [7, 5] },
  { name: '220/7.2', color: '#0000ff', width: 1.5, dash: [7, 3, 1.5, 3] },
  { name: '200/7.2', color: '#00ffff', width: 1.5, dash: [7, 3, 1.5, 3, 1.5, 3, 1.5, 3] }
];
const withData = (styles, lists) => styles.map((s, i) => Object.assign({ data: lists[i] }, s));

stripPanel({ box: [0, 0, 470, 490], left: 46, top: 7, bottom: 466, subW: 83.4,
  y: [-45.5, 45.5], yTicks: VRAD_TICKS, yStep: 10, hline: 0, vline: VRAD_R_VLINE,
  series: withData(TOP_STYLES, [VRAD_R_FB10, VRAD_R_GOOD, VRAD_R_BAD]) });
stripPanel({ box: [690, 0, 460, 490], left: 725.7, top: 7, bottom: 466.5, subW: 83.4,
  y: [185, 229], yTicks: VPHI_TICKS, yStep: 5, hline: 220, vline: VPHI_R_VLINE,
  series: withData(TOP_STYLES, [VPHI_R_FB10, VPHI_R_GOOD, VPHI_R_BAD]) });
stripPanel({ box: [0, 960, 470, 498], left: 46, top: 970.5, bottom: 1429.5, subW: 83.4,
  y: [-45.5, 45.5], yTicks: VRAD_TICKS, yStep: 10, hline: 0, vline: VRAD_Z_VLINE,
  series: withData(BOT_STYLES, [VRAD_Z_220_80, VRAD_Z_200_80, VRAD_Z_220_72, VRAD_Z_200_72]) });
stripPanel({ box: [690, 960, 460, 498], left: 725.7, top: 969.5, bottom: 1430.5, subW: 83.4,
  y: [185, 229], yTicks: VPHI_TICKS, yStep: 5, hline: 220, vline: VPHI_Z_VLINE,
  series: withData(BOT_STYLES, [VPHI_Z_220_80, VPHI_Z_200_80, VPHI_Z_220_72, VPHI_Z_200_72]) });

// relative distance error scatter
new Chart(makeCanvas([0, 490, 470, 470]), {
  type: 'scatter',
  data: { datasets: [
    { data: BAD_PTS.map(([x, y]) => ({ x, y })), pointStyle: 'rectRot', pointRadius: 2.7,
      borderColor: '#00f000', backgroundColor: 'rgba(0,255,0,0.4)', borderWidth: 1 },
    { data: GOOD_PTS.map(([x, y]) => ({ x, y })), pointStyle: 'cross', pointRadius: 2.7,
      borderColor: '#ff0000', borderWidth: 1.6 },
    ...ERR_LEVELS.map(v => ({ data: [{ x: 0, y: v }, { x: 2.82, y: v }], showLine: true,
      pointRadius: 0, borderColor: '#000', borderWidth: 1.3, borderDash: [8, 5] }))
  ] },
  options: {
    responsive: false, animation: false, events: [],
    layout: { autoPadding: false, padding: { left: 0, right: 7, top: 7, bottom: 0 } },
    plugins: { legend: { display: false }, tooltip: { enabled: false },
      idlFrame: { xStep: 0.1, xMajor: 0.5, xLen: [9, 6], yStep: 0.05, yMajor: 0.1, yLen: [4, 4] } },
    scales: {
      x: { type: 'linear', min: 0, max: 2.82,
        grid: { display: false, drawTicks: false }, border: { display: false },
        ticks: { font: { size: 11 }, padding: 4, autoSkip: false, maxRotation: 0, callback: v => v.toFixed(1) },
        afterBuildTicks: s => { s.ticks = DIST_TICKS.map(v => ({ value: v })); },
        afterFit: s => { s.height = 490 + 470 - 936; } },
      y: { type: 'linear', min: 0, max: 0.8,
        grid: { display: false, drawTicks: false }, border: { display: false },
        ticks: { font: { size: 11 }, padding: 3, autoSkip: false, callback: v => v.toFixed(1) },
        afterBuildTicks: s => { s.ticks = ERR_TICKS.map(v => ({ value: v })); },
        afterFit: s => { s.width = 46; } }
    }
  }
});

// rings of constant galactocentric radius in the X-Y plane
const ringSets = [];
[[RING_X_87, '#ff0000'], [RING_X_80, '#000'], [RING_X_72, '#00ff00']].forEach(([rings, col]) => {
  rings.forEach(xs => ringSets.push({
    data: xs.map((x, i) => ({ x, y: RING_Y[i] })), showLine: true, pointRadius: 0,
    borderColor: col, borderWidth: 2, tension: 0.4
  }));
});
new Chart(makeCanvas([690, 497, 460, 460]), {
  type: 'scatter',
  data: { datasets: [
    { data: [{ x: 0, y: 0 }], pointStyle: 'star', pointRadius: 4, borderColor: '#000', borderWidth: 1.5 },
    ...ringSets,
    { data: FIELD_BOX.map(([x, y]) => ({ x, y })), showLine: true, pointRadius: 0,
      borderColor: '#0000ff', borderWidth: 1.2, tension: 0 },
    { data: [{ x: 2.2, y: 0 }, { x: -2.2, y: 0 }], showLine: true, pointRadius: 0, borderColor: '#000', borderWidth: 1 },
    { data: [{ x: 0, y: -2.2 }, { x: 0, y: 2.2 }], showLine: true, pointRadius: 0, borderColor: '#000', borderWidth: 1 }
  ] },
  options: {
    responsive: false, animation: false, events: [],
    layout: { autoPadding: false, padding: { left: 0, right: 6, top: 9.7, bottom: 10.3 } },
    plugins: { legend: { display: false }, tooltip: { enabled: false },
      idlFrame: { xStep: 0.1, xMajor: 1, xLen: [10, 6], yStep: 0.2, yMajor: 1, yLen: [8, 4] } },
    scales: {
      x: { type: 'linear', min: -2.2, max: 2.2, reverse: true,
        grid: { display: false, drawTicks: false }, border: { display: false },
        ticks: { font: { size: 11 }, padding: 4, autoSkip: false, maxRotation: 0, callback: minus },
        afterBuildTicks: s => { s.ticks = KPC_TICKS.map(v => ({ value: v })); },
        afterFit: s => { s.height = 20; } },
      y: { type: 'linear', min: -2.2, max: 2.2, reverse: true,
        grid: { display: false, drawTicks: false }, border: { display: false },
        ticks: { font: { size: 11 }, padding: 3, autoSkip: false, callback: minus },
        afterBuildTicks: s => { s.ticks = KPC_TICKS.map(v => ({ value: v })); },
        afterFit: s => { s.width = 35.7; } }
    }
  }
});

// ---- titles, panel headers and legends ----
const PSI = '\u03A8<sub>GC</sub> [degres]';
putText('Vrad [km/s]', 16, 236.7, 11, 'v');
putText('Vphi [km/s]', 695, 240, 11, 'v');
putText('Vrad [km/s]', 16, 1200, 11, 'v');
putText('Vphi [km/s]', 695, 1200, 11, 'v');
putText(PSI, 254, 487.3, 11, 'c');
putText(PSI, 934.3, 488.3, 11, 'c');
putText(PSI, 254, 1450.7, 11, 'c');
putText(PSI, 934.3, 1451, 11, 'c');
putText('relative dist_error', 16, 716.7, 11.5, 'v');
putText('Heliocentric distance [kpc]', 254, 960.7, 11.5, 'c');
putText('Y [kpc]', 697, 716.7, 12, 'v');
putText('X [kpc]', 934.3, 950, 12, 'c');
putText('GC', 730, 705, 9.5, 'l', '#ff0000');
putText('GR', 941.7, 919, 9.5, 'l', '#ff0000');
putText('Ro [kpc]', 1077.3, 857.3, 11.5, 'l');
putText('= 7.2', 1077.3, 871.7, 11.5, 'l', '#00e000');
putText('= 8.0', 1077.3, 886, 11.5, 'l');
putText('= 8.7', 1077.3, 900, 11.5, 'l', '#ff0000');

function headers(name, nameX, pcX, y1, y2, eqX, numX, values) {
  putText(name, nameX, y1, 16, 'l');
  putText('[pc]', pcX, y1, 16, 'l');
  values.forEach((v, k) => {
    putText('=', eqX[k], y2, 16, 'l');
    putText(minus(v), numX[k], y2, 16, 'l');
  });
}
headers('R', 69.3, 86, 31, 55.3, [55, 140.3, 223.7, 306.7, 390], [77.7, 161.7, 244, 327.3, 410], R_LIST);
headers('R', 735.7, 770, 33.3, 59.3, [738.7, 820, 903.3, 987, 1070.3], [757, 840.7, 923.3, 1006.7, 1090], R_LIST);
headers('r', 69.3, 86, 994.3, 1019.3, [55, 140.7, 223.7, 306.7, 389.3], [70, 151.7, 250.7, 327.7, 400], Z_LIST);
headers('r', 752.3, 770, 997.3, 1022.7, [736, 819.3, 903.3, 986.7, 1070], [758.3, 841.7, 930.7, 1006.7, 1090], Z_LIST);

[[341, 370, 384, [387.7, 412.7, 437.7]], [1021.7, 1050, 1064, [383.3, 409.3, 435.7]]].forEach(([a, b, tx, ys]) => {
  TOP_STYLES.forEach((s, i) => { putSwatch(a, b, ys[i], s); putText(s.name, tx, ys[i], 13, 'l'); });
});
[[341, 370, 383.3, 390, 1306.7, 1322.7, [1340, 1357.3, 1374.3, 1391]],
 [1021.7, 1050, 1064, 1070, 1303.3, 1320, [1336.7, 1354.3, 1371.7, 1389.3]]].forEach(([a, b, hx, tx, hy, fy, ys]) => {
  putText('[km/s:kpc]', hx, hy, 14, 'l');
  putText('FB10', tx, fy, 14, 'l');
  BOT_STYLES.forEach((s, i) => { putSwatch(a, b, ys[i], s); putText(s.name, tx, ys[i], 14, 'l'); });
});
</script>
</body>
</html>
